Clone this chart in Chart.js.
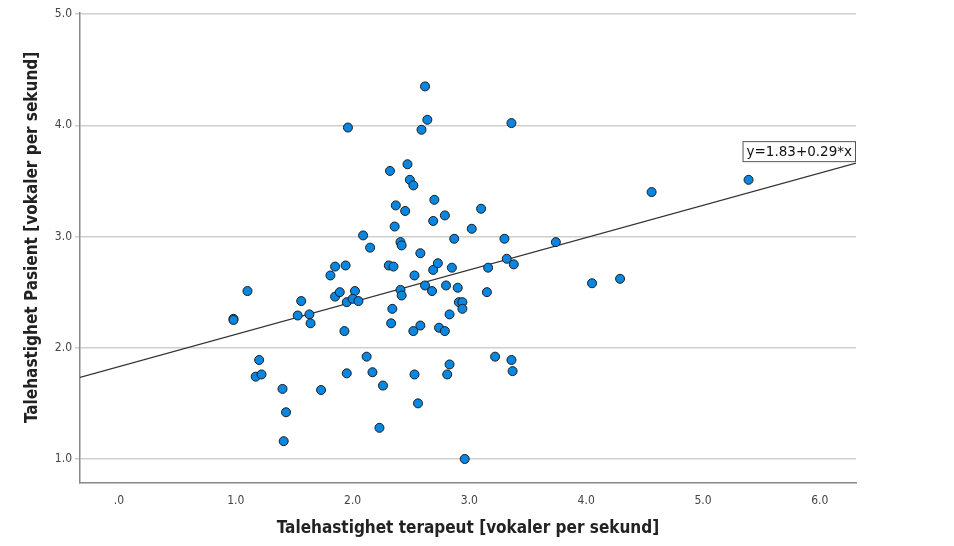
<!DOCTYPE html>
<html>
<head>
<meta charset="utf-8">
<script src="https://cdn.jsdelivr.net/npm/chart.js@4.4.0/dist/chart.umd.min.js"></script>
<style>
  html, body { margin: 0; padding: 0; background: #fff; }
  #scatter-chart { display: block; }
</style>
</head>
<body>
<canvas id="scatter-chart" width="954" height="546"></canvas>
<script>
// Scatter data //

const therapistRate = [
  0.98, 0.98, 1.10, 1.17, 1.22, 1.20, 1.40, 1.43, 1.41, 1.53,
  1.56, 1.63, 1.64, 1.73, 1.81, 1.85, 1.94, 1.85, 1.89, 1.93,
  1.95, 2.02, 2.00, 2.05, 1.95, 1.96, 2.12, 2.17, 2.26, 2.23,
  2.09, 2.15, 2.31, 2.35, 2.34, 2.33, 2.41, 2.42, 2.41, 2.42,
  2.53, 2.58, 2.62, 2.68, 2.69, 2.73, 2.52, 2.58, 2.53, 2.56,
  2.32, 2.47, 2.49, 2.52, 2.37, 2.45, 2.36, 2.70, 2.69, 2.62,
  2.64, 2.59, 3.36, 2.79, 3.10, 3.02, 2.87, 3.30, 3.74, 3.32,
  4.56, 2.85, 3.16, 3.38, 2.80, 2.90, 3.15, 4.05, 4.29, 2.91,
  2.94, 2.94, 2.83, 2.74, 2.79, 3.22, 3.36, 3.37, 2.83, 2.81,
  2.96, 5.39
];

const patientRate = [
  2.26, 2.25, 2.51, 1.74, 1.76, 1.89, 1.63, 1.42, 1.16, 2.29,
  2.42, 2.30, 2.22, 1.62, 2.65, 2.73, 2.74, 2.46, 2.50, 2.15,
  2.41, 2.51, 2.44, 2.42, 1.77, 3.98, 1.92, 1.78, 1.66, 1.28,
  3.01, 2.90, 2.74, 2.73, 2.35, 2.22, 2.95, 2.92, 2.52, 2.47,
  2.65, 2.85, 2.56, 2.51, 2.70, 2.76, 2.15, 2.20, 1.76, 1.50,
  3.59, 3.65, 3.51, 3.46, 3.28, 3.23, 3.09, 3.33, 3.14, 4.35,
  4.05, 3.96, 4.02, 3.19, 3.25, 3.07, 2.98, 2.98, 2.95, 2.80,
  3.40, 2.72, 2.72, 2.75, 2.56, 2.54, 2.50, 2.58, 2.62, 2.41,
  2.41, 2.35, 2.30, 2.18, 2.15, 1.92, 1.89, 1.79, 1.85, 1.76,
  1.00, 3.51
];

// fit line y = a + b*x
const fitIntercept = 1.83;
const fitSlope = 0.29;
const fitLabel = 'y=1.83+0.29*x';

const xTicks = [0, 1, 2, 3, 4, 5, 6];
const yTicks = [1, 2, 3, 4, 5];

const xMin = -0.334, xMax = 6.31;
const yMin = 0.784, yMax = 5.01;

const scatterPoints = therapistRate.map((x, i) => ({ x: x, y: patientRate[i] }));
const fitPoints = [xMin, xMax].map(x => ({ x: x, y: fitIntercept + fitSlope * x }));

const fmtTick = v => {
  const s = Number(v).toFixed(1);
  return s.startsWith('0') ? s.slice(1) : s;
};

// label box at the end of the fit line
const fitLabelPlugin = {
  id: 'fitLabel',
  afterDatasetsDraw(chart) {
    const ctx = chart.ctx;
    const meta = chart.getDatasetMeta(1);
    const end = meta.data[meta.data.length - 1];
    ctx.save();
    ctx.font = '13.5px "DejaVu Sans"';
    const w = ctx.measureText(fitLabel).width + 8;
    const h = 21;
    const bx = end.x - w;
    const by = end.y - h - 1;
    ctx.fillStyle = '#fff';
    ctx.fillRect(bx, by, w, h);
    ctx.strokeStyle = '#555';
    ctx.lineWidth = 1;
    ctx.strokeRect(bx + 0.5, by + 0.5, w - 1, h - 1);
    ctx.fillStyle = '#111';
    ctx.textBaseline = 'middle';
    ctx.fillText(fitLabel, bx + 4, by + h / 2 + 1);
    ctx.restore();
  }
};

const scatterCanvas = document.querySelector('#scatter-chart');

let scatterChart = new Chart(scatterCanvas, {
  type: 'scatter',
  data: {
    datasets: [{
      data: scatterPoints,
      backgroundColor: '#0887e2',
      borderColor: '#1c1c1c',
      borderWidth: 1,
      pointRadius: 4.5,
      order: 1
    }, {
      type: 'line',
      data: fitPoints,
      borderColor: '#333',
      borderWidth: 1.1,
      pointRadius: 0,
      fill: false,
      order: 2
    }]
  },
  options: {
    responsive: false,
    animation: { duration: 0 },
    layout: { padding: { top: 13, right: 98, left: 0, bottom: 0 } },
    plugins: {
      legend: { display: false },
      tooltip: { enabled: false }
    },
    scales: {
      x: {
        type: 'linear',
        min: xMin,
        max: xMax,
        afterBuildTicks: s => { s.ticks = xTicks.map(v => ({ value: v })); },
        afterFit: s => { s.height = 63; },
        grid: { display: false },
        border: { display: true, color: '#888', width: 1.5 },
        ticks: {
          padding: 3,
          color: '#444',
          font: { family: 'DejaVu Sans Condensed', size: 12 },
          callback: v => fmtTick(v)
        },
        title: {
          display: true,
          text: 'Talehastighet terapeut [vokaler per sekund]',
          color: '#222',
          font: { family: 'DejaVu Sans Condensed', size: 17, weight: 'bold' },
          padding: { top: 0, bottom: 7 }
        }
      },
      y: {
        type: 'linear',
        min: yMin,
        max: yMax,
        afterBuildTicks: s => { s.ticks = yTicks.map(v => ({ value: v })); },
        afterFit: s => { s.width = 80; },
        grid: { color: '#cfcfcf', lineWidth: 1.5, tickLength: 5 },
        border: { display: true, color: '#888', width: 1.5 },
        ticks: {
          padding: 3,
          color: '#444',
          font: { family: 'DejaVu Sans Condensed', size: 12 },
          callback: v => fmtTick(v)
        },
        title: {
          display: true,
          // leading spaces nudge the centred title a little upward
          text: '    Talehastighet Pasient [vokaler per sekund]',
          color: '#222',
          font: { family: 'DejaVu Sans Condensed', size: 17, weight: 'bold' },
          padding: { top: 22, bottom: 0 }
        }
      }
    }
  },
  plugins: [fitLabelPlugin]
});
</script>
</body>
</html>
